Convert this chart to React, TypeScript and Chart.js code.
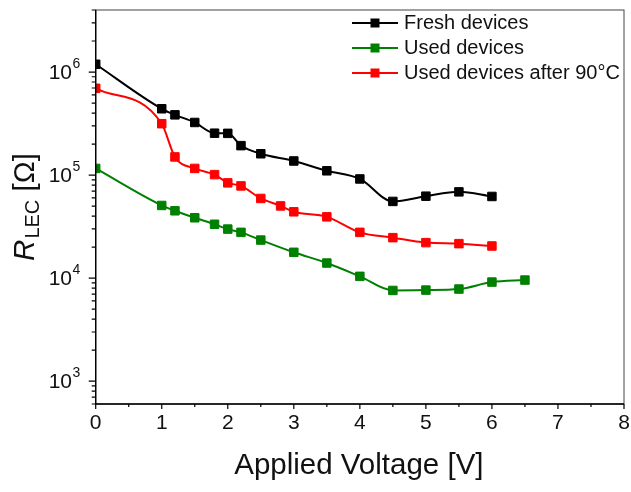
import React, { useEffect, useRef } from 'react';
import { Chart, registerables } from 'chart.js';

Chart.register(...registerables);

// ---- data ----
const freshV = [0, 1, 1.2, 1.5, 1.8, 2, 2.2, 2.5, 3, 3.5, 4, 4.5, 5, 5.5, 6];
const freshR = [1.19e6, 4.4e5, 3.84e5, 3.24e5, 2.55e5, 2.54e5, 1.93e5, 1.61e5, 1.37e5, 1.1e5, 9.17e4, 5.55e4, 6.24e4, 6.87e4, 6.2e4];
const usedV = [0, 1, 1.2, 1.5, 1.8, 2, 2.2, 2.5, 3, 3.5, 4, 4.5, 5, 5.5, 6, 6.5];
const usedR = [1.16e5, 5.07e4, 4.5e4, 3.85e4, 3.33e4, 2.99e4, 2.78e4, 2.34e4, 1.78e4, 1.4e4, 1.04e4, 7.59e3, 7.65e3, 7.83e3, 9.15e3, 9.57e3];
const heatedV = [0, 1, 1.2, 1.5, 1.8, 2, 2.2, 2.5, 2.8, 3, 3.5, 4, 4.5, 5, 5.5, 6];
const heatedR = [6.95e5, 3.15e5, 1.5e5, 1.16e5, 1.01e5, 8.4e4, 7.85e4, 5.93e4, 5.02e4, 4.4e4, 3.93e4, 2.78e4, 2.47e4, 2.21e4, 2.16e4, 2.05e4];
const seriesNames = ['Fresh devices', 'Used devices', 'Used devices after 90°C'];
const seriesColors = ['#000000', '#008000', '#ff0000'];
const xTickValues = [0, 1, 2, 3, 4, 5, 6, 7, 8];
const yDecades = [3, 4, 5, 6];
const xTitle = 'Applied Voltage [V]';
const yTitleMain = 'R';
const yTitleSub = 'LEC';
const yTitleUnit = ' [Ω]';

const FONT = '"Liberation Sans", Arial, sans-serif';

const decorPlugin = {
  id: 'decor',
  afterDraw(chart: any) {
    const { ctx, chartArea: a, scales } = chart;
    const x = scales.x;
    const y = scales.y;
    ctx.save();
    // frame
    ctx.strokeStyle = '#444';
    ctx.lineWidth = 1;
    ctx.strokeRect(a.left, a.top, a.right - a.left, a.bottom - a.top);
    ctx.strokeStyle = '#000';
    ctx.lineWidth = 1.4;
    ctx.beginPath();
    ctx.moveTo(a.left, a.top);
    ctx.lineTo(a.left, a.bottom);
    ctx.lineTo(a.right, a.bottom);
    ctx.stroke();

    // x ticks
    ctx.lineWidth = 1.2;
    ctx.beginPath();
    for (let i = 0; i < xTickValues.length; i++) {
      const px = x.getPixelForValue(xTickValues[i]);
      ctx.moveTo(px, a.bottom);
      ctx.lineTo(px, a.bottom + 5);
      if (i < xTickValues.length - 1) {
        const pm = x.getPixelForValue((xTickValues[i] + xTickValues[i + 1]) / 2);
        ctx.moveTo(pm, a.bottom);
        ctx.lineTo(pm, a.bottom + 3);
      }
    }
    // y ticks
    for (let d = 2; d <= 7; d++) {
      for (let k = 1; k <= 9; k++) {
        const v = k * Math.pow(10, d);
        if (v < y.min || v > y.max) continue;
        const py = y.getPixelForValue(v);
        ctx.moveTo(a.left, py);
        ctx.lineTo(a.left - (k === 1 ? 7 : 4), py);
      }
    }
    ctx.stroke();

    ctx.fillStyle = '#111';
    // x labels
    ctx.font = `21px ${FONT}`;
    ctx.textAlign = 'center';
    ctx.textBaseline = 'middle';
    for (const v of xTickValues) {
      ctx.fillText(String(v), x.getPixelForValue(v), 423);
    }
    // y labels
    for (const d of yDecades) {
      const py = y.getPixelForValue(Math.pow(10, d));
      ctx.font = `21px ${FONT}`;
      ctx.textAlign = 'right';
      ctx.textBaseline = 'middle';
      ctx.fillText('10', 72, py + 1);
      ctx.font = `14px ${FONT}`;
      ctx.textAlign = 'left';
      ctx.fillText(String(d), 72.5, py - 8);
    }

    // x title
    ctx.font = `29.5px ${FONT}`;
    ctx.textAlign = 'center';
    ctx.textBaseline = 'middle';
    ctx.fillText(xTitle, (a.left + a.right) / 2 - 1, 466);

    // y title (rotated, centred on the axis)
    ctx.save();
    ctx.translate(26, (a.top + a.bottom) / 2);
    ctx.rotate(-Math.PI / 2);
    const parts = [
      { t: yTitleMain, f: `italic 29.5px ${FONT}`, dy: 0, gap: 1 },
      { t: yTitleSub, f: `20px ${FONT}`, dy: 7, gap: 0 },
      { t: yTitleUnit, f: `29.5px ${FONT}`, dy: 0, gap: 0 },
    ];
    let total = 0;
    for (const p of parts) {
      ctx.font = p.f;
      total += ctx.measureText(p.t).width + p.gap;
    }
    let cx = -total / 2;
    ctx.textAlign = 'left';
    ctx.textBaseline = 'middle';
    for (const p of parts) {
      ctx.font = p.f;
      ctx.fillText(p.t, cx, p.dy);
      cx += ctx.measureText(p.t).width + p.gap;
    }
    ctx.restore();

    // legend
    const rows = [23, 48, 73];
    for (let i = 0; i < seriesNames.length; i++) {
      const ry = rows[i];
      ctx.strokeStyle = seriesColors[i];
      ctx.lineWidth = 2;
      ctx.beginPath();
      ctx.moveTo(352, ry);
      ctx.lineTo(398, ry);
      ctx.stroke();
      ctx.fillStyle = seriesColors[i];
      ctx.fillRect(375 - 4.5, ry - 4.5, 9, 9);
      ctx.fillStyle = '#111';
      ctx.font = `20px ${FONT}`;
      ctx.textAlign = 'left';
      ctx.textBaseline = 'middle';
      ctx.fillText(seriesNames[i], 404, ry);
    }
    ctx.restore();
  },
};

function makeDataset(label: string, xs: number[], ys: number[], color: string) {
  return {
    label,
    data: xs.map((v, i) => ({ x: v, y: ys[i] })),
    borderColor: color,
    backgroundColor: color,
    borderWidth: 2,
    pointStyle: 'rect',
    pointRadius: 6,
    pointBorderWidth: 1,
    pointBorderColor: color,
    pointBackgroundColor: color,
    cubicInterpolationMode: 'monotone',
    clip: 0,
  };
}

export default function App() {
  const ref = useRef<HTMLCanvasElement>(null);
  useEffect(() => {
    if (!ref.current) return;
    const chart = new Chart(ref.current, {
      type: 'line',
      data: {
        datasets: [
          makeDataset(seriesNames[0], freshV, freshR, seriesColors[0]),
          makeDataset(seriesNames[1], usedV, usedR, seriesColors[1]),
          makeDataset(seriesNames[2], heatedV, heatedR, seriesColors[2]),
        ] as any,
      },
      options: {
        animation: false,
        responsive: false,
        layout: { padding: { top: 10, right: 5, left: 0, bottom: 0 } },
        plugins: { legend: { display: false }, tooltip: { enabled: false } },
        scales: {
          x: {
            type: 'linear',
            min: 0,
            max: 8,
            ticks: { display: false },
            grid: { display: false },
            border: { display: false },
            afterFit: (s: any) => { s.height = 88; },
          },
          y: {
            type: 'logarithmic',
            min: 600,
            max: 4e6,
            ticks: { display: false },
            grid: { display: false },
            border: { display: false },
            afterFit: (s: any) => { s.width = 95.7; },
          },
        },
      } as any,
      plugins: [decorPlugin],
    });
    return () => chart.destroy();
  }, []);
  return (
    <div style={{ position: 'absolute', left: 0, top: 0, width: 631, height: 492, background: '#fff' }}>
      <canvas ref={ref} width={631} height={492} style={{ display: 'block' }} />
    </div>
  );
}
